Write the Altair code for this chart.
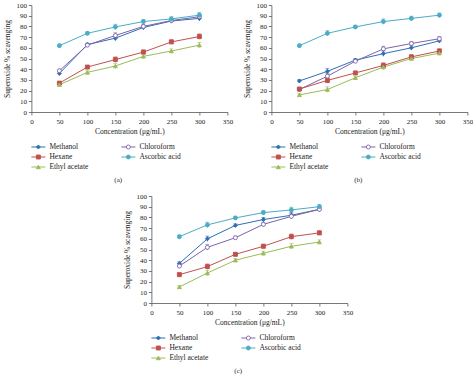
import altair as alt
import pandas as pd

# ---------------- data ----------------
conc = [50, 100, 150, 200, 250, 300]
series_names = ["Methanol", "Chloroform", "Hexane", "Ascorbic acid", "Ethyl acetate"]

# panel (a)
a_methanol = [36, 63, 69, 79, 85, 87.5]
a_chloroform = [38.5, 62.5, 71.5, 80, 85.5, 89]
a_hexane = [27, 42, 49, 56, 65.5, 70.5]
a_ascorbic = [62, 73.5, 79.5, 84.5, 87, 90.5]
a_ethyl = [25.5, 37, 43, 52, 57, 62.5]
a_err = [1.5, 1.5, 2.5, 2, 2, 2.5]

# panel (b)
b_methanol = [29, 38, 48.5, 54.5, 60, 66.5]
b_chloroform = [21, 33.5, 47.5, 59, 64, 68.5]
b_hexane = [21.5, 29.5, 36.5, 43.5, 51.5, 57]
b_ascorbic = [62, 73.5, 79.5, 84.5, 87.5, 90.5]
b_ethyl = [16, 21, 32, 42, 50, 55]
b_err = [1.5, 2.5, 1.5, 2.5, 2, 2]

# panel (c)
c_methanol = [37, 60, 72.5, 78, 82, 87.5]
c_chloroform = [34.5, 52, 61, 73.5, 81, 87.5]
c_hexane = [26.5, 34, 45.5, 53, 62, 65.5]
c_ascorbic = [62, 73, 79.5, 84.5, 87, 90]
c_ethyl = [15, 28, 40, 46.5, 53, 57]
c_err = [1.5, 2.5, 1.5, 2, 2.5, 2]

x_ticks = [0, 50, 100, 150, 200, 250, 300, 350]
y_ticks = [0, 10, 20, 30, 40, 50, 60, 70, 80, 90, 100]

legend_col = [0, 1, 0, 1, 0]
legend_row = [0, 0, 1, 1, 2]

colors = ["#2F6EB5", "#7E63A8", "#C0504D", "#4BACC6", "#9BBB59"]
fills = ["#2F6EB5", "#FFFFFF", "#C0504D", "#4BACC6", "#9BBB59"]
shapes = ["diamond", "circle", "square", "circle", "triangle-up"]

FONT = "Liberation Serif"
PW, PH = 196, 107

color_scale = alt.Scale(domain=series_names, range=colors)
fill_scale = alt.Scale(domain=series_names, range=fills)
shape_scale = alt.Scale(domain=series_names, range=shapes)


def long_df(vals):
    rows = []
    for name, v in zip(series_names, vals):
        for x, y in zip(conc, v):
            rows.append({"series": name, "conc": x, "val": y})
    return pd.DataFrame(rows)


def xenc():
    return alt.X("conc:Q", scale=alt.Scale(domain=[0, 350], nice=False),
                 axis=alt.Axis(values=x_ticks, tickCount=8, labelOverlap=False,
                               labelFlush=False, title="Concentration (\u03bcg/mL)"))


def yenc(field):
    return alt.Y(field, scale=alt.Scale(domain=[0, 100], nice=False),
                 axis=alt.Axis(values=y_ticks, tickCount=11, labelOverlap=False,
                               labelFlush=False, title="Superoxide % scavenging"))


def make_panel(vals, err, caption):
    df = long_df(vals)
    df["err"] = err * len(series_names)
    df["lo"] = df["val"] - df["err"]
    df["hi"] = df["val"] + df["err"]
    base = alt.Chart(df)
    col = alt.Color("series:N", scale=color_scale, legend=None)
    line = base.mark_line(strokeWidth=1).encode(
        x=xenc(), y=yenc("val:Q"), color=col, detail="series:N")
    rule = base.mark_rule(strokeWidth=0.8).encode(
        x=xenc(), y=yenc("lo:Q"), y2="hi:Q", color=col)
    cap = base.mark_tick(size=4, thickness=0.8, orient="horizontal").encode(
        x=xenc(), y=yenc("hi:Q"), color=col)
    pts = base.mark_point(size=16, opacity=1, strokeWidth=0.9).encode(
        x=xenc(), y=yenc("val:Q"), color=col,
        fill=alt.Fill("series:N", scale=fill_scale, legend=None),
        shape=alt.Shape("series:N", scale=shape_scale, legend=None))
    plot = alt.layer(line, rule, cap, pts).properties(width=PW, height=PH)

    ldf = pd.DataFrame({"series": series_names, "col": legend_col, "row": legend_row})
    lb = alt.Chart(ldf).transform_calculate(
        x0="datum.col * 90", x1="datum.col * 90 + 14",
        xm="datum.col * 90 + 7", xt="datum.col * 90 + 18")
    lx = alt.Scale(domain=[0, PW], nice=False)
    ly = alt.Scale(domain=[-0.5, 2.5], reverse=True, nice=False)
    lrule = lb.mark_rule(strokeWidth=1).encode(
        x=alt.X("x0:Q", scale=lx, axis=None), x2="x1:Q",
        y=alt.Y("row:Q", scale=ly, axis=None), color=col)
    lpt = lb.mark_point(size=16, opacity=1, strokeWidth=0.9).encode(
        x=alt.X("xm:Q", scale=lx, axis=None), y=alt.Y("row:Q", scale=ly, axis=None),
        color=col,
        fill=alt.Fill("series:N", scale=fill_scale, legend=None),
        shape=alt.Shape("series:N", scale=shape_scale, legend=None))
    ltxt = lb.mark_text(align="left", baseline="middle", font=FONT, fontSize=7.5,
                        color="#222").encode(
        x=alt.X("xt:Q", scale=lx, axis=None), y=alt.Y("row:Q", scale=ly, axis=None),
        text="series:N")
    legend = alt.layer(lrule, lpt, ltxt).properties(width=PW, height=30)

    return alt.vconcat(plot, legend, spacing=7,
                       title=alt.TitleParams(caption, orient="bottom", anchor="middle",
                                             frame="bounds", offset=4))


pa = make_panel([a_methanol, a_chloroform, a_hexane, a_ascorbic, a_ethyl], a_err, "(a)")
pb = make_panel([b_methanol, b_chloroform, b_hexane, b_ascorbic, b_ethyl], b_err, "(b)")
pc = make_panel([c_methanol, c_chloroform, c_hexane, c_ascorbic, c_ethyl], c_err, "(c)")

top = alt.hconcat(pa, pb, spacing=10)
chart = alt.vconcat(top, pc, spacing=9, center=True).properties(
    padding={"left": 3, "top": 1, "right": 0, "bottom": 0},
    background="white",
).configure_view(stroke=None).configure_axis(
    grid=False, labelFont=FONT, titleFont=FONT, labelFontSize=7, titleFontSize=7.5,
    titleFontWeight="normal", labelColor="#222", titleColor="#222",
    domainColor="#555", tickColor="#555", tickSize=3, labelPadding=2,
    titlePadding=3, domainWidth=0.8, tickWidth=0.8, labelOverlap=False,
).configure_axisY(titlePadding=4).configure_title(
    font=FONT, fontSize=7, fontWeight="normal", color="#222")

chart.save("out.html", embed_options={"renderer": "svg", "actions": False})
